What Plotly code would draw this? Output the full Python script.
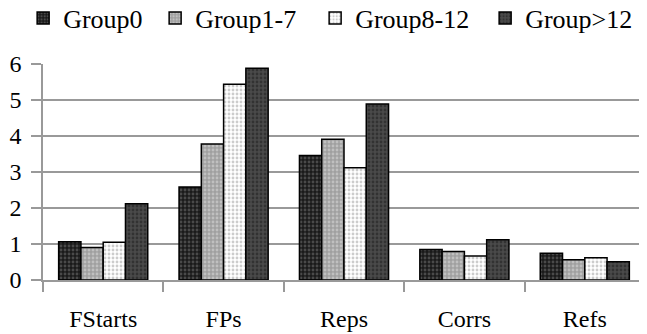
import plotly.graph_objects as go

categories = ["FStarts", "FPs", "Reps", "Corrs", "Refs"]
group_names = ["Group0", "Group1-7", "Group8-12", "Group>12"]
group0 = [1.06, 2.58, 3.46, 0.85, 0.74]
group1_7 = [0.90, 3.78, 3.91, 0.79, 0.56]
group8_12 = [1.05, 5.44, 3.12, 0.67, 0.62]
group_gt12 = [2.12, 5.88, 4.89, 1.12, 0.51]
y_ticks = [0, 1, 2, 3, 4, 5, 6]

series = [group0, group1_7, group8_12, group_gt12]
styles = [
    dict(bg="#1a1a1a", fg="#7a7a7a", lw=87),
    dict(bg="#a0a0a0", fg="#e0e0e0", lw=115),
    dict(bg="#ffffff", fg="#9a9a9a", lw=125),
    dict(bg="#4a4a4a", fg="#1a1a1a", lw=110),
]

FONT = "Liberation Serif"
fig = go.Figure()
for name, vals, st in zip(group_names, series, styles):
    fig.add_trace(go.Bar(
        name=name, x=categories, y=vals, legendwidth=st["lw"],
        marker=dict(color=st["bg"],
                    line=dict(color="#000000", width=1.5),
                    pattern=dict(shape=".", fgcolor=st["fg"], bgcolor=st["bg"],
                                 size=4, solidity=0.4)),
    ))

# page body has an 8px margin, so the figure is sized to fit the window
fig.update_layout(
    width=639, height=326,
    margin=dict(l=35, r=2, t=56, b=54, autoexpand=False),
    paper_bgcolor="white", plot_bgcolor="white",
    barmode="group", bargap=0.26, bargroupgap=0,
    font=dict(family=FONT, size=24, color="#000000"),
    legend=dict(orientation="h", x=-0.033, xanchor="left", y=1.213, yanchor="middle",
                xref="paper", yref="paper",
                font=dict(family=FONT, size=26, color="#000000"),
                traceorder="normal", bgcolor="rgba(0,0,0,0)"),
    showlegend=True,
)
fig.update_xaxes(
    showline=True, linecolor="#999999", linewidth=1.5,
    ticks="outside", tickson="boundaries", ticklen=10, tickcolor="#999999", tickwidth=1.5,
    ticklabelstandoff=16, showgrid=False, automargin=False,
    tickfont=dict(family=FONT, size=24, color="#000000"),
)
fig.update_yaxes(
    range=[0, 6], tickvals=y_ticks,
    showline=True, linecolor="#999999", linewidth=1.5,
    ticks="outside", ticklen=10, tickcolor="#999999", tickwidth=1.5,
    showgrid=True, gridcolor="#999999", gridwidth=1.5, zeroline=False,
    ticklabelstandoff=5, automargin=False,
    tickfont=dict(family=FONT, size=24, color="#000000"),
)
fig.write_html("out.html")
